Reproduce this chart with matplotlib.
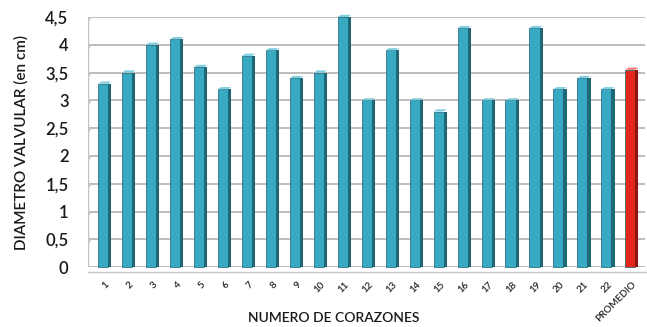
import matplotlib
matplotlib.use("Agg")
import matplotlib.pyplot as plt
import numpy as np

plt.rcParams['font.family'] = ['Lato', 'DejaVu Sans']

# Valve diameter per heart (cm) and the overall average
hearts = [str(i) for i in range(1, 23)]
diameters = [3.3, 3.5, 4.0, 4.1, 3.6, 3.2, 3.8, 3.9, 3.4, 3.5, 4.5,
             3.0, 3.9, 3.0, 2.8, 4.3, 3.0, 3.0, 4.3, 3.2, 3.4, 3.2]
average_label = "PROMEDIO"
average_value = 3.55

y_ticks = [0, 0.5, 1, 1.5, 2, 2.5, 3, 3.5, 4, 4.5]
y_tick_labels = ["0", "0,5", "1", "1,5", "2", "2,5", "3", "3,5", "4", "4,5"]

categories = hearts + [average_label]
values = diameters + [average_value]
front_colors = ["#38A9C2"] * len(hearts) + ["#E5261C"]
side_colors = ["#1D6777"] * len(hearts) + ["#8E1610"]
top_colors = ["#7FCFE0"] * len(hearts) + ["#F27A70"]

fig = plt.figure(figsize=(6.47, 3.27), dpi=100)
ax = fig.add_axes([0.136, 0.183, 0.861, 0.765])

x = np.arange(len(categories))
front_w = 0.42
side_w = 0.13

# back-wall gridlines
for t in y_ticks:
    ax.axhline(t, color="#BDBDBD", lw=1.4, zorder=0)

# left wall edge and small depth corners at each gridline
ax.axvline(-0.7, color="#C4C4C4", lw=1.0, zorder=0)
for t in y_ticks:
    ax.plot([-0.7, -0.58], [t - 0.08, t], color="#C4C4C4", lw=1.0, zorder=0)
# floor front edge
ax.plot([-0.7, len(categories) - 0.4], [-0.08, -0.08], color="#C4C4C4",
        lw=1.0, zorder=0, clip_on=False)

# 3D-looking bars: front face, darker right side, lighter top cap
ax.bar(x - side_w / 2, values, width=front_w, color=front_colors,
       edgecolor="#176070", linewidth=0.5, zorder=3, clip_on=False)
ax.bar(x + front_w / 2, values, width=side_w, color=side_colors,
       linewidth=0, zorder=3, clip_on=False)
for xi, v, tc in zip(x, values, top_colors):
    ax.fill([xi - side_w / 2 - front_w / 2, xi - side_w / 2 + front_w / 2,
             xi + front_w / 2 + side_w / 2, xi - front_w / 2 + side_w / 2],
            [v, v, v + 0.04, v + 0.04], color=tc, zorder=4, lw=0,
            clip_on=False)

ax.set_xlim(-0.7, len(categories) - 0.45)
ax.set_ylim(0, 4.5)
ax.set_yticks(y_ticks)
ax.set_yticklabels(y_tick_labels, fontsize=12, color="#1A1A1A",
                   fontweight="semibold")
ax.set_xticks(x)
ax.set_xticklabels(categories, rotation=45, ha="right", rotation_mode="anchor",
                   fontsize=7, color="#222222", fontweight="semibold")
ax.tick_params(axis="both", length=0)
ax.tick_params(axis="y", pad=14)
ax.tick_params(axis="x", pad=9)
for s in ax.spines.values():
    s.set_visible(False)

ax.set_ylabel("DIAMETRO VALVULAR (en cm)", fontsize=11, color="#1A1A1A",
              labelpad=12, fontweight="semibold")
fig.text(0.515, 0.028, "NUMERO DE CORAZONES", fontsize=10, color="#1A1A1A",
         ha="center", va="center", fontweight="semibold")

fig.savefig("out.png", dpi=100)
